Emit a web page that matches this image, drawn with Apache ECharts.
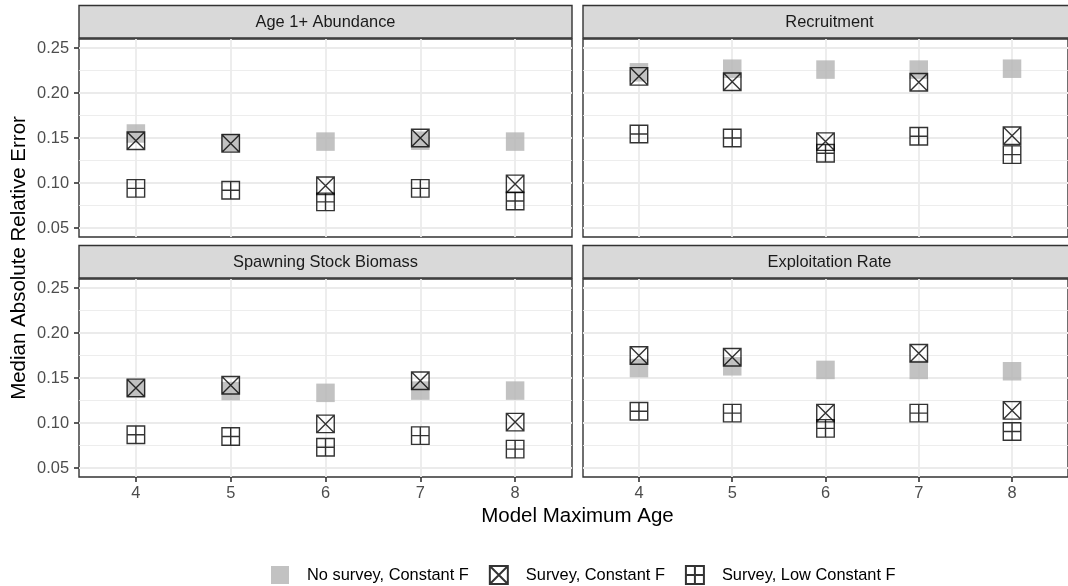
<!DOCTYPE html>
<html>
<head>
<meta charset="utf-8">
<script src="https://cdn.jsdelivr.net/npm/echarts@6/dist/echarts.min.js"></script>
<style>
  html, body { margin: 0; padding: 0; background: #ffffff; }
  #chart { width: 1068px; height: 586px; }
</style>
</head>
<body>
<div id="chart"></div>
<script>
// Model maximum age on the x axis
const maxAge = [4, 5, 6, 7, 8];

// Panel titles (facets)
const panelTitles = ['Age 1+ Abundance', 'Recruitment', 'Spawning Stock Biomass', 'Exploitation Rate'];

// Scenario names
const seriesNames = ['No survey, Constant F', 'Survey, Constant F', 'Survey, Low Constant F'];

// Median absolute relative error, per panel and scenario
const abundanceNoSurvey = [0.155, 0.145, 0.146, 0.147, 0.146];
const abundanceSurvey = [0.147, 0.144, 0.097, 0.150, 0.099];
const abundanceLowF = [0.094, 0.092, 0.079, 0.094, 0.080];

const recruitmentNoSurvey = [0.223, 0.227, 0.226, 0.226, 0.227];
const recruitmentSurvey = [0.2185, 0.2125, 0.146, 0.212, 0.1525];
const recruitmentLowF = [0.1545, 0.150, 0.133, 0.152, 0.1315];

const ssbNoSurvey = [0.138, 0.1355, 0.1335, 0.136, 0.136];
const ssbSurvey = [0.139, 0.142, 0.099, 0.147, 0.101];
const ssbLowF = [0.087, 0.085, 0.073, 0.086, 0.071];

const exploitNoSurvey = [0.161, 0.163, 0.159, 0.159, 0.1575];
const exploitSurvey = [0.175, 0.173, 0.111, 0.1775, 0.114];
const exploitLowF = [0.113, 0.111, 0.094, 0.111, 0.0905];

// Axis ticks
const yTicks = [0.05, 0.10, 0.15, 0.20, 0.25];
const yMinorTicks = [0.075, 0.125, 0.175, 0.225];

const panelValues = [
  [abundanceNoSurvey, abundanceSurvey, abundanceLowF],
  [recruitmentNoSurvey, recruitmentSurvey, recruitmentLowF],
  [ssbNoSurvey, ssbSurvey, ssbLowF],
  [exploitNoSurvey, exploitSurvey, exploitLowF]
];

const FONT = '"Liberation Sans", Arial, Helvetica, sans-serif';
const Y_MIN = 0.04, Y_MAX = 0.26;
const X_MIN = 3.4, X_MAX = 8.6;

// Facet layout: 2 x 2 panels
const panelW = 493, panelH = 198;
const colLeft = [79, 583];
const rowTop = [39, 279];
const stripH = 32.5;

const crossSquare = 'path://M0 0H20V20H0ZM0 0L20 20M20 0L0 20';
const plusSquare = 'path://M0 0H20V20H0ZM10 0V20M0 10H20';

const grids = [], xAxes = [], yAxes = [], series = [], graphics = [];

for (let p = 0; p < 4; p++) {
  const col = p % 2, row = Math.floor(p / 2);
  const left = colLeft[col], top = rowTop[row];
  const showX = row === 1, showY = col === 0;

  grids.push({
    left: left, top: top, width: panelW, height: panelH,
    show: true, backgroundColor: '#ffffff',
    borderColor: '#333333', borderWidth: 1.4
  });

  xAxes.push({
    type: 'value', gridIndex: p, min: X_MIN, max: X_MAX,
    axisLine: { show: false },
    axisTick: { show: showX, customValues: maxAge, length: 5, lineStyle: { color: '#333333', width: 1.6 } },
    axisLabel: { show: showX, customValues: maxAge, margin: 8, fontSize: 16.4, color: '#4d4d4d', fontFamily: FONT },
    splitLine: { show: true, lineStyle: { color: '#ebebeb', width: 1.8 } }
  });

  // major y axis
  yAxes.push({
    type: 'value', gridIndex: p, min: Y_MIN, max: Y_MAX, position: 'left',
    axisLine: { show: false },
    axisTick: { show: showY, customValues: yTicks, length: 5, lineStyle: { color: '#333333', width: 1.6 } },
    axisLabel: {
      show: showY, customValues: yTicks, margin: 10, fontSize: 16.4, color: '#4d4d4d', fontFamily: FONT,
      formatter: v => v.toFixed(2)
    },
    splitLine: { show: true, lineStyle: { color: '#ebebeb', width: 1.8 } }
  });
  const majorIdx = yAxes.length - 1;

  // minor horizontal grid lines
  yAxes.push({
    type: 'value', gridIndex: p, min: Y_MIN, max: Y_MAX, position: 'left',
    axisLine: { show: false },
    axisTick: { show: false, customValues: yMinorTicks },
    axisLabel: { show: false, customValues: yMinorTicks },
    splitLine: { show: true, lineStyle: { color: '#ebebeb', width: 0.9 } }
  });

  const vals = panelValues[p];
  const styles = [
    { symbol: 'rect', symbolSize: 18.5, itemStyle: { color: '#b3b3b3' } },
    { symbol: crossSquare, symbolSize: 17.5, itemStyle: { color: 'rgba(0,0,0,0)', borderColor: '#000000', borderWidth: 1.4 } },
    { symbol: plusSquare, symbolSize: 17.5, itemStyle: { color: 'rgba(0,0,0,0)', borderColor: '#000000', borderWidth: 1.4 } }
  ];
  for (let s = 0; s < 3; s++) {
    series.push(Object.assign({
      type: 'scatter',
      name: seriesNames[s],
      xAxisIndex: p,
      yAxisIndex: majorIdx,
      z: 3 + s,
      animation: false,
      emphasis: { disabled: true },
      data: maxAge.map((a, i) => [a, vals[s][i]])
    }, styles[s]));
  }

  // facet strip
  graphics.push({
    type: 'rect',
    shape: { x: left, y: top - stripH - 1, width: panelW, height: stripH },
    style: { fill: '#d9d9d9', stroke: '#333333', lineWidth: 1.4 },
    z: 10
  });
  graphics.push({
    type: 'text',
    x: left + panelW / 2, y: top - stripH / 2,
    style: {
      text: panelTitles[p], fill: '#1a1a1a', font: '16.4px ' + FONT,
      textAlign: 'center', textVerticalAlign: 'middle'
    },
    z: 11
  });
}

// axis titles
graphics.push({
  type: 'text', x: 19, y: 258, rotation: Math.PI / 2,
  style: {
    text: 'Median Absolute Relative Error', fill: '#000000', font: '20.5px ' + FONT,
    textAlign: 'center', textVerticalAlign: 'middle'
  }
});
graphics.push({
  type: 'text', x: 577.5, y: 516,
  style: {
    text: 'Model Maximum Age', fill: '#000000', font: '20.5px ' + FONT,
    textAlign: 'center', textVerticalAlign: 'middle'
  }
});

const chart = echarts.init(document.getElementById('chart'), null, { renderer: 'canvas' });
chart.setOption({
  backgroundColor: '#ffffff',
  animation: false,
  grid: grids,
  xAxis: xAxes,
  yAxis: yAxes,
  legend: {
    data: seriesNames,
    left: 271, top: 565, padding: 0,
    itemWidth: 18, itemHeight: 18, itemGap: 20,
    selectedMode: false,
    textStyle: { fontSize: 16.4, color: '#000000', fontFamily: FONT, padding: [0, 0, 0, 13] }
  },
  graphic: graphics,
  series: series
});
</script>
</body>
</html>
